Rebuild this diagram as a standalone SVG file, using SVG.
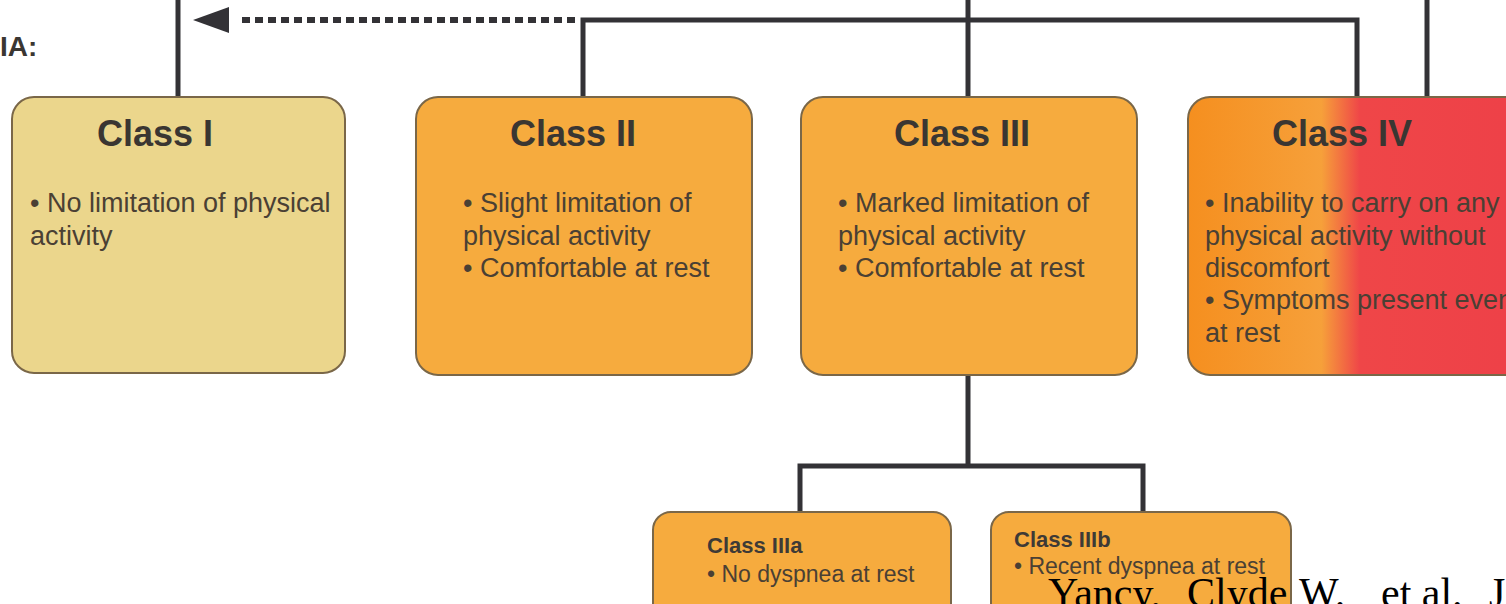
<svg xmlns="http://www.w3.org/2000/svg" width="1506" height="604" viewBox="0 0 1506 604">
<style>
.box{stroke:#7a6748;stroke-width:2}
.org{fill:#f6ab3e}
.ttl{font-family:"Liberation Sans",Arial,sans-serif;font-weight:bold;font-size:36px;fill:#3a3632;text-anchor:middle}
.txt{font-family:"Liberation Sans",Arial,sans-serif;font-size:27px;fill:#4a4034}
.sttl{font-family:"Liberation Sans",Arial,sans-serif;font-weight:bold;font-size:22px;fill:#3e3a36}
.stxt{font-family:"Liberation Sans",Arial,sans-serif;font-size:23px;fill:#4a4034}
.line{fill:none;stroke:#333236;stroke-width:5}
</style>
<defs>
<linearGradient id="g4" x1="1188" y1="0" x2="1506" y2="0" gradientUnits="userSpaceOnUse">
<stop offset="0" stop-color="#f58f1f"/>
<stop offset="0.42" stop-color="#f6a03a"/>
<stop offset="0.54" stop-color="#ef4648"/>
<stop offset="1" stop-color="#ee4148"/>
</linearGradient>
</defs>
<rect width="1506" height="604" fill="#ffffff"/>
<text x="0" y="56" style="font-family:'Liberation Sans',Arial,sans-serif;font-weight:bold;font-size:28px;fill:#3a3632">IA:</text>
<g id="connectors">
<path class="line" d="M178,0 V97"/>
<path class="line" d="M583,97 V20 H1357 V97"/>
<path class="line" d="M968,0 V97"/>
<path class="line" d="M1427,0 V97"/>
<path class="line" d="M968,375 V466 M800,512 V466 H1143 V512"/>
<path fill="none" stroke="#333236" stroke-width="6" stroke-dasharray="8,5" d="M575,20 H237"/>
<path d="M193,20 L229,7 L229,33 Z" fill="#333236"/>
</g>
<g id="class1">
<rect class="box" x="12" y="97" width="333" height="276" rx="22" fill="#ebd68c"/>
<text class="ttl" x="155" y="146">Class I</text>
<text class="txt" x="30" y="212">• No limitation of physical</text>
<text class="txt" x="30" y="245">activity</text>
</g>
<g id="class2">
<rect class="box org" x="416" y="97" width="336" height="278" rx="22"/>
<text class="ttl" x="573" y="146">Class II</text>
<text class="txt" x="463" y="212">• Slight limitation of</text>
<text class="txt" x="463" y="245">physical activity</text>
<text class="txt" x="463" y="277">• Comfortable at rest</text>
</g>
<g id="class3">
<rect class="box org" x="801" y="97" width="336" height="278" rx="22"/>
<text class="ttl" x="962" y="146">Class III</text>
<text class="txt" x="838" y="212">• Marked limitation of</text>
<text class="txt" x="838" y="245">physical activity</text>
<text class="txt" x="838" y="277">• Comfortable at rest</text>
</g>
<g id="class4">
<rect class="box" x="1188" y="97" width="340" height="278" rx="22" fill="url(#g4)"/>
<text class="ttl" x="1342" y="146">Class IV</text>
<text class="txt" x="1205" y="212">• Inability to carry on any</text>
<text class="txt" x="1205" y="245">physical activity without</text>
<text class="txt" x="1205" y="277">discomfort</text>
<text class="txt" x="1205" y="309">• Symptoms present even</text>
<text class="txt" x="1205" y="342">at rest</text>
</g>
<g id="class3a">
<rect class="box org" x="653" y="512" width="298" height="110" rx="18"/>
<text class="sttl" x="707" y="553">Class IIIa</text>
<text class="stxt" x="707" y="582">• No dyspnea at rest</text>
</g>
<g id="class3b">
<rect class="box org" x="991" y="512" width="300" height="110" rx="18"/>
<text class="sttl" x="1014" y="547">Class IIIb</text>
<text class="stxt" x="1014" y="574">• Recent dyspnea at rest</text>
</g>
<text y="607" style="font-family:'Liberation Serif','Times New Roman',serif;font-size:42px;fill:#000000"><tspan x="1048">Yancy,</tspan><tspan x="1187">Clyde</tspan><tspan x="1299">W.</tspan><tspan x="1381">et al.</tspan><tspan x="1489">J</tspan></text>
</svg>
